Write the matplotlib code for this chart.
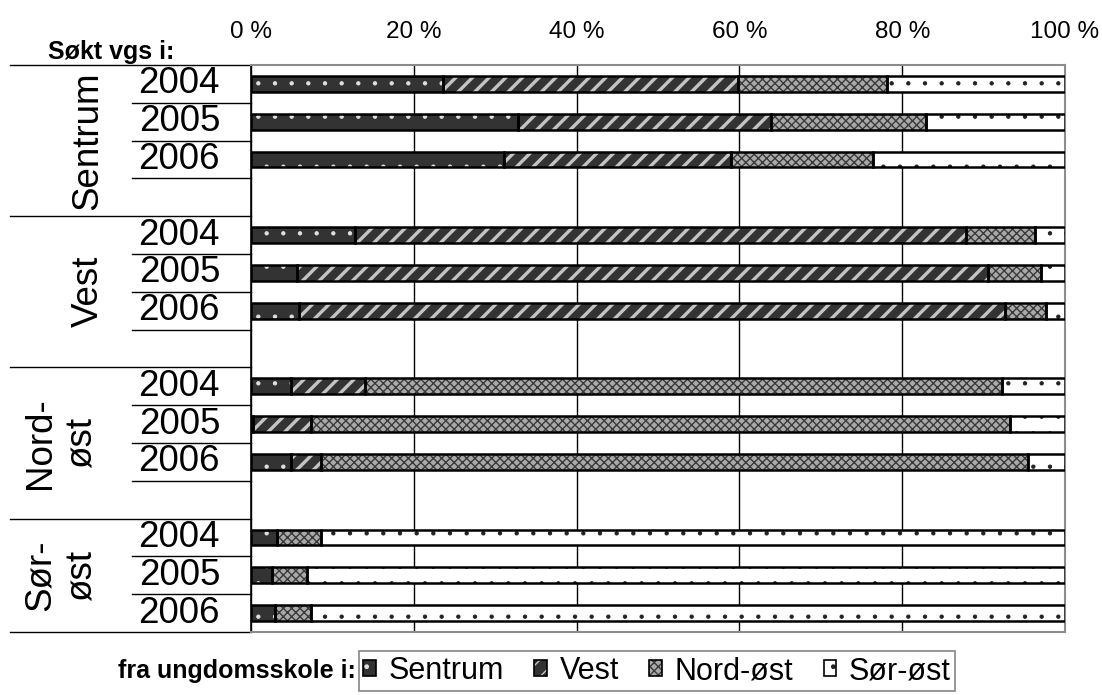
import matplotlib
matplotlib.use("Agg")
import matplotlib.pyplot as plt
from matplotlib.patches import Rectangle
import numpy as np

plt.rcParams['font.family'] = ['Liberation Sans', 'DejaVu Sans']

# data (percent of applicants)
groups = ['Sentrum', 'Vest', 'Nord-\nøst', 'Sør-\nøst']
years = ['2004', '2005', '2006']
series = ['Sentrum', 'Vest', 'Nord-øst', 'Sør-øst']

sentrum = [23.6, 32.8, 31.1, 12.8, 5.6, 5.9, 4.9, 0.3, 4.9, 3.2, 2.6, 3.0]
vest = [36.2, 31.1, 27.9, 75.0, 85.0, 86.7, 9.1, 7.1, 3.7, 0.0, 0.0, 0.0]
nordost = [18.3, 19.0, 17.4, 8.5, 6.4, 5.1, 78.2, 85.8, 86.9, 5.4, 4.3, 4.4]
sorost = [21.9, 17.1, 23.6, 3.7, 3.0, 2.3, 7.8, 6.8, 4.5, 91.4, 93.1, 92.6]

ticks = [0, 20, 40, 60, 80, 100]
tick_labels = ['0 %', '20 %', '40 %', '60 %', '80 %', '100 %']

faces = ['#333333', '#333333', '#a9a9a9', '#ffffff']
hatches = ['.', '//', 'xxxx', '.']
hatch_cols = ['#e0e0e0', '#c4c4c4', '#3a3a3a', '#222222']
hatch_lws = [0.7, 2.4, 1.0, 0.7]

fig = plt.figure(figsize=(11.02, 6.95), dpi=100)
ax = fig.add_axes([251 / 1102, 1 - 632 / 695, 814 / 1102, 567 / 695])

# row positions: 4 rows per group, last group without blank row
ypos = []
for g in range(len(groups)):
    for k in range(len(years)):
        ypos.append(g * 4 + k)
ypos = np.array(ypos)

data = [sentrum, vest, nordost, sorost]
left = np.zeros(len(ypos))
handles = []
for vals, fc, h, hc, hlw in zip(data, faces, hatches, hatch_cols, hatch_lws):
    vals = np.array(vals)
    with plt.rc_context({'hatch.linewidth': hlw}):
        ax.barh(ypos, vals, left=left, height=0.42, color=fc, hatch=h,
                edgecolor=hc, linewidth=0, zorder=3)
        p1 = Rectangle((0, 0), 1, 1, facecolor=fc, hatch=h, edgecolor=hc, linewidth=0)
    ax.barh(ypos, vals, left=left, height=0.42, fill=False,
            edgecolor='black', linewidth=1.8, zorder=4)
    left = left + vals
    p2 = Rectangle((0, 0), 1, 1, fill=False, edgecolor='black', linewidth=1.2)
    handles.append((p1, p2))

ax.set_xlim(0, 100)
ax.set_ylim(14.5, -0.5)
ax.set_yticks([])
ax.xaxis.tick_top()
ax.set_xticks(ticks)
ax.set_xticklabels(tick_labels, fontsize=17.5)
ax.tick_params(axis='x', length=0, pad=16)
ax.grid(axis='x', color='black', linewidth=1, zorder=0)
ax.set_axisbelow(True)
for s in ['top', 'right', 'bottom']:
    ax.spines[s].set_color('#8c8c8c')
    ax.spines[s].set_linewidth(1.5)
ax.spines['left'].set_color('black')
ax.spines['left'].set_linewidth(1.2)

tr = ax.get_yaxis_transform()
x_year = (132 - 251) / 814
x_group = (10 - 251) / 814

# year labels and separator lines
for g in range(len(groups)):
    for k, yr in enumerate(years):
        r = g * 4 + k
        ax.text(-0.038, r, yr, transform=tr, ha='right', va='center', fontsize=26.5)
    for k in range(3):
        r = g * 4 + k + 0.5
        if r < 14.5:
            ax.plot([x_year, 0], [r, r], transform=tr, color='black', lw=1, clip_on=False)
    top = g * 4 - 0.5
    ax.plot([x_group, 0], [top, top], transform=tr, color='black', lw=1, clip_on=False)
ax.plot([x_group, 0], [14.5, 14.5], transform=tr, color='black', lw=1, clip_on=False)

# group labels
group_centers = [1.5, 5.5, 9.5, 13.0]
for name, yc in zip(groups, group_centers):
    xg = (88 - 251) / 814 if '\n' not in name else (61 - 251) / 814
    ax.text(xg, yc, name, transform=tr, rotation=90, ha='center', va='center',
            fontsize=26.5, multialignment='center', linespacing=1.25)

fig.text(48 / 1102, 1 - 52 / 695, 'Søkt vgs i:', fontsize=18, fontweight='bold',
         ha='left', va='center')
fig.text(356 / 1102, 1 - 671 / 695, 'fra ungdomsskole i:', fontsize=18,
         fontweight='bold', ha='right', va='center')

leg = fig.legend(handles, series, loc='center', ncol=4,
                 bbox_to_anchor=(657 / 1102, 1 - 671 / 695), fontsize=22,
                 frameon=True, fancybox=False, handlelength=0.42, handleheight=0.42,
                 handletextpad=0.4, columnspacing=1.0, borderpad=0.15,
                 borderaxespad=0)
leg.get_frame().set_edgecolor('#666666')
leg.get_frame().set_linewidth(1.2)

fig.savefig('out.png', dpi=100)
